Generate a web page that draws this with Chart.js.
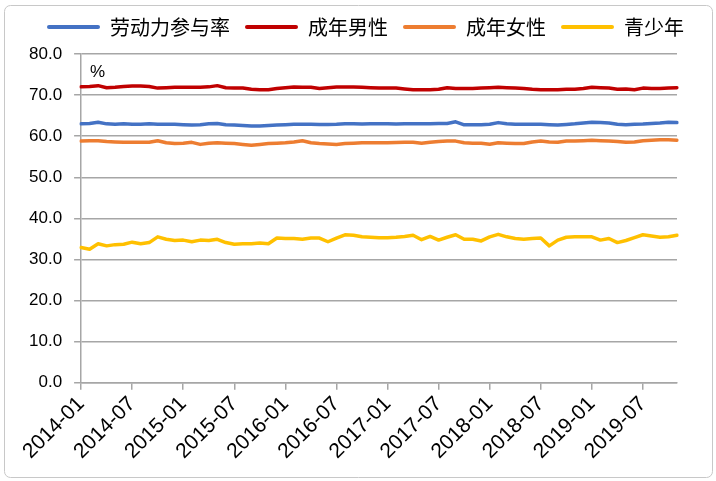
<!DOCTYPE html>
<html><head><meta charset="utf-8">
<script src="https://cdn.jsdelivr.net/npm/chart.js@4"></script>
<style>html,body{margin:0;padding:0;background:#fff}#wrap{width:716px;height:481px}</style>
</head><body><div id="wrap"><canvas id="c" width="716" height="481"></canvas></div>
<script>
const months = ["2014-01","2014-02","2014-03","2014-04","2014-05","2014-06","2014-07","2014-08","2014-09","2014-10","2014-11","2014-12",
"2015-01","2015-02","2015-03","2015-04","2015-05","2015-06","2015-07","2015-08","2015-09","2015-10","2015-11","2015-12",
"2016-01","2016-02","2016-03","2016-04","2016-05","2016-06","2016-07","2016-08","2016-09","2016-10","2016-11","2016-12",
"2017-01","2017-02","2017-03","2017-04","2017-05","2017-06","2017-07","2017-08","2017-09","2017-10","2017-11","2017-12",
"2018-01","2018-02","2018-03","2018-04","2018-05","2018-06","2018-07","2018-08","2018-09","2018-10","2018-11","2018-12",
"2019-01","2019-02","2019-03","2019-04","2019-05","2019-06","2019-07","2019-08","2019-09","2019-10","2019-11"];
const participation = [63.0,63.1,63.4,63.0,62.9,63.0,62.9,62.9,63.0,62.9,62.9,62.9,62.8,62.7,62.8,63.0,63.1,62.8,62.7,62.6,62.5,62.5,62.6,62.7,62.8,62.9,62.9,62.9,62.85,62.85,62.9,63.0,63.0,62.95,63.0,63.0,63.0,62.95,63.0,63.0,63.0,63.05,63.1,63.1,63.5,62.75,62.75,62.8,62.9,63.3,63.0,62.9,62.9,62.9,62.9,62.8,62.7,62.85,63.0,63.2,63.4,63.3,63.2,62.9,62.8,62.9,62.95,63.1,63.2,63.4,63.3];
const adultMale = [72.0,72.1,72.3,71.8,71.9,72.1,72.2,72.2,72.1,71.7,71.8,71.9,71.9,71.9,71.9,72.0,72.3,71.8,71.7,71.7,71.4,71.3,71.3,71.6,71.8,71.95,71.9,71.9,71.6,71.8,71.95,71.95,71.95,71.9,71.8,71.7,71.7,71.7,71.5,71.3,71.3,71.3,71.4,71.8,71.6,71.6,71.6,71.7,71.8,71.9,71.8,71.7,71.6,71.4,71.3,71.3,71.3,71.4,71.4,71.6,71.9,71.8,71.7,71.4,71.5,71.3,71.7,71.6,71.6,71.7,71.8];
const adultFemale = [58.8,58.9,58.9,58.7,58.6,58.5,58.5,58.5,58.5,58.9,58.4,58.2,58.3,58.5,58.0,58.3,58.4,58.3,58.2,58.0,57.8,58.0,58.2,58.3,58.4,58.6,58.9,58.4,58.2,58.1,58.0,58.2,58.3,58.4,58.4,58.4,58.4,58.45,58.5,58.5,58.3,58.5,58.7,58.8,58.8,58.4,58.3,58.3,58.05,58.4,58.3,58.2,58.2,58.6,58.8,58.6,58.5,58.8,58.8,58.9,59.0,58.9,58.8,58.7,58.5,58.6,58.9,59.0,59.1,59.1,59.0];
const teen = [32.9,32.5,33.8,33.3,33.6,33.7,34.2,33.8,34.1,35.5,34.9,34.6,34.7,34.3,34.7,34.6,34.9,34.1,33.7,33.8,33.8,34.0,33.8,35.2,35.1,35.1,34.9,35.2,35.2,34.3,35.2,36.0,35.9,35.5,35.4,35.3,35.3,35.4,35.6,35.9,34.8,35.6,34.7,35.4,36.0,34.9,34.9,34.5,35.5,36.1,35.5,35.1,34.9,35.1,35.2,33.3,34.7,35.4,35.5,35.5,35.5,34.7,35.1,34.1,34.6,35.3,36.0,35.7,35.4,35.5,35.9];
const seriesNames = ["劳动力参与率","成年男性","成年女性","青少年"];
const seriesColors = ["#4472C4","#C00000","#ED7D31","#FFC000"];
const yTicks = [0,10,20,30,40,50,60,70,80];
const unitLabel = "%";

const values = [participation, adultMale, adultFemale, teen];
const gridColor = "#A6A6A6";

function legendLine(color) {
  const cv = document.createElement("canvas");
  cv.width = 53; cv.height = 6;
  const g = cv.getContext("2d");
  g.strokeStyle = color;
  g.lineWidth = 4;
  g.lineCap = "round";
  g.beginPath();
  g.moveTo(2, 3);
  g.lineTo(51, 3);
  g.stroke();
  return cv;
}

const extras = {
  id: "extras",
  beforeLayout(chart) {
    const lg = chart.legend;
    if (lg && !lg._tuned) {
      const orig = lg.fit.bind(lg);
      lg.fit = function () {
        orig();
        this.height += 7;
        if (this.lineWidths && this.lineWidths.length === 1) this.lineWidths[0] -= 8;
      };
      lg._tuned = true;
    }
  },
  beforeDraw(chart) {
    const ctx = chart.ctx;
    ctx.save();
    ctx.fillStyle = "#fff";
    ctx.fillRect(0, 0, chart.width, chart.height);
    ctx.strokeStyle = "#C8C8C8";
    ctx.lineWidth = 1;
    ctx.beginPath();
    if (ctx.roundRect) ctx.roundRect(4.5, 5.5, 708, 472, 6); else ctx.rect(4.5, 5.5, 708, 472);
    ctx.stroke();
    ctx.restore();
  },
  afterDraw(chart) {
    const ctx = chart.ctx;
    const a = chart.chartArea;
    ctx.save();
    ctx.fillStyle = "#000";
    ctx.font = "17px 'Liberation Sans', Arial, sans-serif";
    ctx.textBaseline = "top";
    ctx.fillText(unitLabel, a.left + 9, a.top + 10);
    ctx.restore();
  }
};

new Chart(document.getElementById("c"), {
  type: "line",
  data: {
    labels: months,
    datasets: seriesNames.map((n, k) => ({
      label: n,
      data: values[k],
      borderColor: seriesColors[k],
      backgroundColor: seriesColors[k],
      borderWidth: 3.5,
      borderCapStyle: "round",
      borderJoinStyle: "round",
      pointRadius: 0,
      pointStyle: legendLine(seriesColors[k]),
      tension: 0,
      fill: false
    }))
  },
  options: {
    responsive: false,
    animation: false,
    layout: { padding: { left: 17, right: 10, top: 2, bottom: 15 } },
    plugins: {
      legend: {
        position: "top",
        labels: {
          usePointStyle: true,
          pointStyleWidth: 53,
          boxHeight: 20,
          padding: 15,
          color: "#000",
          font: { family: "'Noto Sans CJK SC', sans-serif", size: 20 }
        }
      },
      tooltip: { enabled: false }
    },
    scales: {
      x: {
        type: "category",
        offset: false,
        afterBuildTicks: (axis) => { axis.ticks = axis.ticks.filter(t => t.value % 6 === 0); },
        grid: { drawOnChartArea: false, drawTicks: true, tickLength: 7, color: gridColor, lineWidth: 1.5 },
        border: { color: gridColor, width: 1.5 },
        ticks: {
          autoSkip: false, maxRotation: 45, minRotation: 45, padding: 2,
          color: "#000",
          font: { family: "'Liberation Sans', Arial, sans-serif", size: 21 }
        }
      },
      y: {
        min: 0, max: 80,
        afterBuildTicks: (axis) => { axis.ticks = yTicks.map(v => ({ value: v })); },
        grid: { color: gridColor, lineWidth: 1.5, tickLength: 7 },
        border: { color: gridColor, width: 1.5 },
        ticks: {
          padding: 12, color: "#000",
          font: { family: "'Liberation Sans', Arial, sans-serif", size: 17 },
          callback: (v) => Number(v).toFixed(1)
        }
      },
      yRight: {
        position: "right",
        display: true,
        min: 0, max: 80,
        grid: { drawOnChartArea: false, drawTicks: false },
        border: { display: false },
        ticks: { display: false },
        afterFit: (s) => { s.width = 29; }
      }
    }
  },
  plugins: [extras]
});
</script>
</body></html>
